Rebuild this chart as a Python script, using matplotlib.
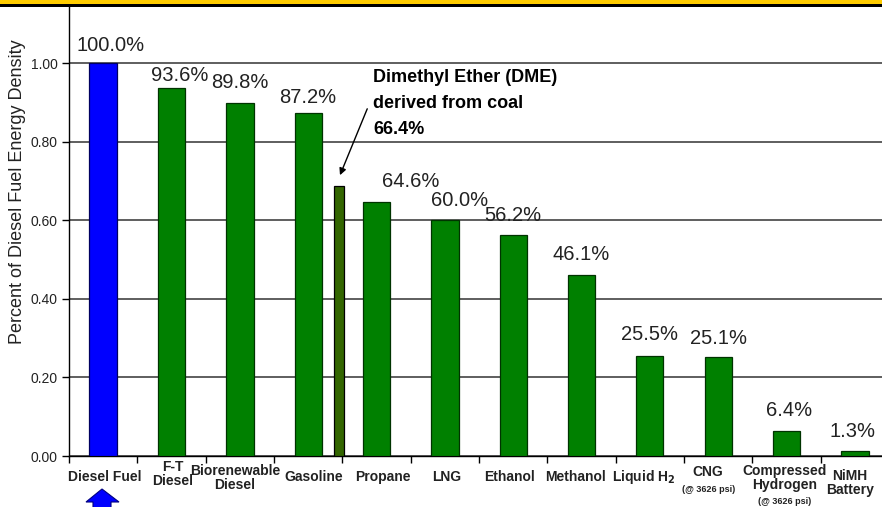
import numpy as np
import matplotlib
matplotlib.use('Agg')
import matplotlib.pyplot as plt
from matplotlib.patches import Rectangle, Polygon

plt.rcParams['font.family'] = ['Liberation Sans', 'DejaVu Sans']

# Data
categories = ['Diesel Fuel', 'F-T\nDiesel', 'Biorenewable\nDiesel', 'Gasoline', 'Propane',
              'LNG', 'Ethanol', 'Methanol', r'Liquid H$_\mathbf{2}$', 'CNG',
              'Compressed\nHydrogen', 'NiMH\nBattery']
notes = ['', '', '', '', '', '', '', '', '', '(@ 3626 psi)', '(@ 3626 psi)', '']
values = [1.000, 0.936, 0.898, 0.872, 0.646, 0.600, 0.562, 0.461, 0.255, 0.251, 0.064, 0.013]
value_labels = ['100.0%', '93.6%', '89.8%', '87.2%', '64.6%', '60.0%', '56.2%', '46.1%',
                '25.5%', '25.1%', '6.4%', '1.3%']
dme_value = 0.688
dme_text = 'Dimethyl Ether (DME)\nderived from coal\n66.4%'
yticks = [0.0, 0.2, 0.4, 0.6, 0.8, 1.0]

# layout nudges (pixels) for the value labels and category labels
label_dx = [7, 8, 0, 0, 34, 15, 0, 0, 0, 0, 3, -2]
label_dy = [18, 13, 21, 16, 21, 20, 20, 20, 21, 19, 20, 19]
cat_dx = [2, 1, -5, 6, 6, 2, -4, -6, -6, -10, -2, -5]
cat_y = [21, 18, 22, 21, 21, 21, 21, 21, 21, 16, 22, 27]
note_y = [0, 0, 0, 0, 0, 0, 0, 0, 0, 34, 45, 0]

W, H = 882, 507
fig = plt.figure(figsize=(W / 100, H / 100), dpi=100)
ax = fig.add_axes([69 / W, 51 / H, 820 / W, 449 / H])

x = np.arange(len(categories))
colors = ['#0000FF'] + ['#008000'] * (len(categories) - 1)
edges = ['#000060'] + ['#003300'] * (len(categories) - 1)
ax.bar(x, values, width=0.4, color=colors, edgecolor=edges, linewidth=0.9, zorder=3)
ax.bar(3.45, dme_value, width=0.15, color='#336600', edgecolor='black', linewidth=0.9, zorder=3)

ax.set_xlim(-0.5, len(categories) - 0.5)
ax.set_ylim(0, 1.1425)
ax.set_yticks(yticks)
ax.set_yticklabels(['%.2f' % t for t in yticks], fontsize=10, color='#222222')
ax.set_xticks(np.arange(-0.5, len(categories), 1.0))
ax.set_xticklabels([])
ax.tick_params(axis='both', direction='out', length=5, width=1, color='black')
ax.tick_params(axis='y', pad=3)
ax.yaxis.grid(True, color='#333333', linewidth=1.1, zorder=0)
ax.set_axisbelow(True)
for s in ['top', 'right']:
    ax.spines[s].set_visible(False)
ax.spines['left'].set_linewidth(1)
ax.spines['bottom'].set_linewidth(1)

# value labels above bars
for i, (v, lab) in enumerate(zip(values, value_labels)):
    ax.annotate(lab, (x[i], v), xytext=(label_dx[i], label_dy[i]), textcoords='offset pixels',
                ha='center', va='center', fontsize=14.5, color='#222222')

# category labels
for i, cat in enumerate(categories):
    ax.annotate(cat, (x[i], 0), xytext=(cat_dx[i], -cat_y[i]), textcoords='offset pixels',
                ha='center', va='center', fontsize=10, fontweight='bold',
                color='#222222', linespacing=0.95, annotation_clip=False)
    if notes[i]:
        ax.annotate(notes[i], (x[i], 0), xytext=(cat_dx[i], -note_y[i]), textcoords='offset pixels',
                    ha='center', va='center', fontsize=6.5, fontweight='bold',
                    color='#222222', annotation_clip=False)

# DME callout
ax.annotate('', xy=(3.45, dme_value + 0.02), xytext=(3.88, 0.89),
            arrowprops=dict(arrowstyle='-|>', color='black', lw=1, mutation_scale=10))
ax.text(3.95, 0.896, dme_text, fontsize=13, fontweight='bold', ha='left', va='center',
        linespacing=1.7, color='black')

fig.text(18 / W, 1 - 192 / H, 'Percent of Diesel Fuel Energy Density', rotation=90,
         ha='center', va='center', fontsize=13, color='#222222')

# header band cut at the top
fig.patches.append(Rectangle((0, 1 - 4 / H), 1, 4 / H, transform=fig.transFigure,
                             facecolor='#FFCC00', edgecolor='none'))
fig.patches.append(Rectangle((0, 1 - 7 / H), 1, 3 / H, transform=fig.transFigure,
                             facecolor='black', edgecolor='none'))

# blue arrow under Diesel Fuel
pts = [(86, 502), (102, 489), (119, 502), (111, 502), (111, 508), (93, 508), (93, 502)]
fig.patches.append(Polygon([(px / W, 1 - py / H) for px, py in pts], closed=True,
                           transform=fig.transFigure, facecolor='#0000FF',
                           edgecolor='#000080', linewidth=0.8))

fig.savefig('out.png', dpi=100)
